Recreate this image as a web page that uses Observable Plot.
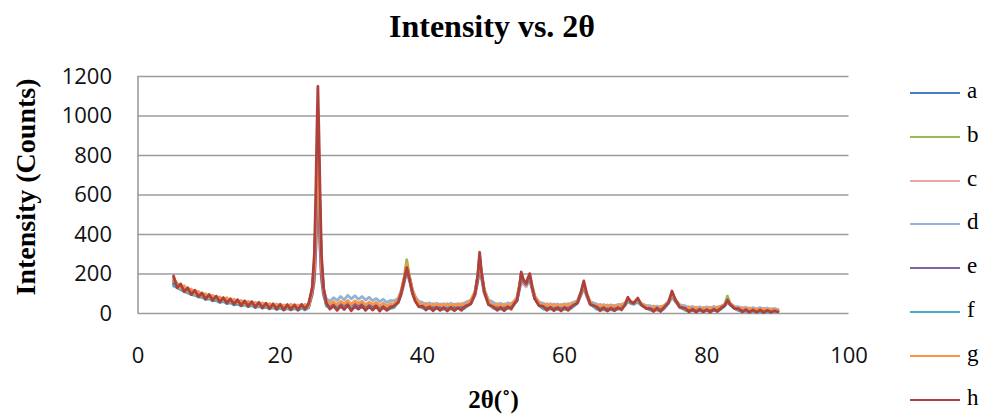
<!DOCTYPE html>
<html>
<head>
<meta charset="utf-8">
<script src="https://cdn.jsdelivr.net/npm/d3@7"></script>
<script src="https://cdn.jsdelivr.net/npm/@observablehq/plot@0.6"></script>
<style>
  html, body { margin: 0; padding: 0; background: #fff; }
  #wrap { position: relative; width: 984px; height: 417px; overflow: hidden; }
  #chart { position: absolute; left: 0; top: 0; }
  #title { position: absolute; left: 0; width: 984px; top: 8px; text-align: center;
           font-family: "Liberation Serif", "Times New Roman", serif; font-weight: bold; font-size: 32px; color: #000; }
  .leg { position: absolute; left: 910px; height: 24px; }
  .leg .sw { position: absolute; left: 0; top: 11px; width: 50px; height: 0; border-top: 2px solid; }
  .leg .lb { position: absolute; left: 57px; top: -2px; font-family: "Liberation Serif", "Times New Roman", serif; font-size: 23px; color: #000; line-height: 24px; }
</style>
</head>
<body>
<div id="wrap">
  <div id="chart"></div>
  <div id="title">Intensity vs. 2θ</div>
  <div id="legend"></div>
</div>
<script>
// 2θ positions (degrees)
const twoTheta = [
  5,5.5,6,6.5,7,7.5,8,8.5,9,9.5,10,10.5,11,11.5,12,12.5,13,13.5,14,14.5,15,15.5,16,16.5,17,17.5,18,18.5,19,19.5,20,20.5,21,21.5,22,22.5,23,23.5,24,
  24.5,24.8,25.0,25.15,25.3,25.45,25.6,25.8,26.1,
  26.5,27,27.5,28,28.5,29,29.5,30,30.5,31,31.5,32,32.5,33,33.5,34,34.5,35,35.5,36,
  36.6,37.0,37.4,37.8,38.2,38.6,39.0,39.5,
  40,40.5,41,41.5,42,42.5,43,43.5,44,44.5,45,45.5,46,
  46.8,47.4,47.8,48.05,48.3,48.7,49.3,
  50,50.5,51,51.5,52,52.5,52.9,
  53.3,53.7,53.9,54.2,54.6,54.9,55.1,55.4,55.8,56.4,
  57,57.5,58,58.5,59,59.5,60,60.5,61,
  61.8,62.3,62.7,63.1,63.6,
  64.5,65,65.5,66,66.5,67,67.5,68,
  68.5,68.9,69.3,69.7,70.3,70.8,71.5,
  72,72.5,73,73.5,74,
  74.6,75.1,75.6,76.2,
  77,77.5,78,78.5,79,79.5,80,80.5,81,81.5,82,
  82.5,82.9,83.3,83.9,
  84.5,85,85.5,86,86.5,87,87.5,88,88.5,89,89.5,90
];

// Intensity (counts) per sample
const seriesA = [
  164,144,132,130,110,118,96,106,86,94,76,88,68,80,62,72,56,66,50,60,44,56,40,52,36,48,32,44,30,42,28,40,26,40,26,40,28,42,32,
  120,240,440,690,870,720,490,250,120,
  46,40,50,38,48,40,52,42,50,40,48,36,46,38,44,34,40,32,38,40,
  62,104,166,240,180,112,72,48,
  30,38,28,36,26,34,28,36,26,34,28,36,34,
  56,104,190,280,205,118,56,
  30,38,28,36,30,40,52,
  72,145,195,168,150,178,188,138,80,46,
  28,36,26,34,26,32,26,36,32,
  56,104,145,98,52,
  26,34,24,32,24,30,26,34,
  46,68,56,52,64,46,31,
  20,30,18,28,28,
  56,92,66,36,
  18,26,16,24,16,24,16,24,18,26,28,
  41,62,46,29,
  16,24,14,22,12,20,12,20,12,18,10,16
];
const seriesB = [
  160,136,142,116,126,100,112,88,100,78,92,70,84,62,78,56,72,50,66,44,60,40,56,36,52,32,48,28,46,26,44,24,42,22,42,24,42,26,46,
  110,210,400,600,760,630,430,220,110,
  40,50,34,48,38,52,36,50,40,48,34,46,36,44,30,42,30,40,28,44,
  64,108,175,272,185,115,74,46,
  40,28,38,26,36,24,36,26,34,24,36,28,40,
  58,106,182,255,198,114,54,
  40,28,38,26,40,34,50,
  74,150,200,170,155,180,190,142,84,48,
  38,26,36,24,34,24,36,26,40,
  58,106,150,100,54,
  36,24,34,22,32,22,34,34,
  50,76,60,54,70,48,32,
  30,20,30,18,32,
  58,98,68,37,
  28,16,26,14,24,14,26,14,26,18,30,
  44,88,50,30,
  26,14,24,12,22,10,22,10,20,10,18,12
];
const seriesC = [
  150,140,130,120,116,104,102,92,90,80,84,72,76,64,70,58,64,52,58,46,54,42,50,38,46,34,42,30,40,28,38,26,36,26,36,26,36,28,40,
  92,160,300,445,560,470,320,170,90,
  44,38,42,36,44,40,46,38,44,36,42,36,40,34,38,32,36,30,34,38,
  56,92,145,205,160,100,64,42,
  32,28,30,26,30,26,30,24,30,26,30,28,34,
  50,90,160,235,178,100,48,
  32,28,30,26,32,32,46,
  64,125,170,148,135,158,165,125,72,42,
  30,26,28,24,28,24,28,26,32,
  50,90,126,86,46,
  28,24,26,22,26,22,26,28,
  42,60,50,46,56,42,28,
  22,18,22,18,28,
  50,80,58,32,
  20,16,18,14,18,14,18,14,20,16,26,
  38,54,42,26,
  18,14,16,12,16,12,14,10,14,10,12,11
];
const seriesD = [
  178,150,146,124,130,108,116,96,104,86,96,78,88,70,80,64,74,58,68,52,64,48,60,44,56,40,52,36,50,34,48,32,46,32,46,32,46,34,50,
  108,200,370,560,700,590,400,210,112,
  76,62,80,66,86,70,92,74,90,72,86,68,82,64,76,60,72,56,66,64,
  78,112,160,215,170,118,86,62,
  56,44,54,42,52,42,50,40,52,42,50,44,56,
  68,108,175,240,190,118,70,
  56,44,52,42,54,48,64,
  82,140,180,160,148,168,175,138,88,58,
  52,40,50,38,48,38,50,40,54,
  64,100,135,96,60,
  48,38,46,36,44,36,46,44,
  52,66,58,54,62,50,40,
  40,32,38,30,42,
  60,88,68,44,
  38,28,36,26,34,26,34,26,36,28,38,
  46,60,50,36,
  34,26,32,24,30,22,30,22,28,20,26,20
];
const seriesE = [
  150,146,128,132,108,116,96,104,84,94,76,86,68,78,60,72,56,66,48,60,44,56,40,52,36,48,32,44,28,42,26,40,24,40,24,40,26,42,30,
  100,180,330,500,620,520,350,185,98,
  48,36,46,34,48,38,46,36,46,34,44,36,42,32,40,30,38,30,36,40,
  60,100,158,225,172,108,68,44,
  34,28,32,26,34,26,30,24,32,26,32,28,36,
  54,98,172,250,190,108,52,
  34,28,32,26,34,34,48,
  68,136,185,160,145,170,178,135,78,44,
  32,26,30,24,30,24,30,26,34,
  54,98,140,94,50,
  30,24,28,22,28,22,28,30,
  45,66,55,50,62,45,30,
  24,20,24,20,30,
  54,90,64,34,
  22,16,20,14,20,14,20,16,22,18,28,
  40,60,45,28,
  20,14,18,12,18,12,16,10,16,10,14,12
];
const seriesF = [
  140,132,120,112,104,96,92,84,82,72,74,64,66,56,60,50,54,44,48,38,44,34,40,30,36,28,32,24,30,20,28,18,26,18,26,16,28,18,30,
  125,260,490,750,960,790,520,270,125,
  38,28,34,26,36,28,38,30,34,26,32,24,32,24,30,22,28,20,26,30,
  58,102,165,245,178,108,66,38,
  28,22,26,20,26,20,24,18,24,20,26,20,28,
  50,102,188,285,206,112,48,
  26,22,24,20,26,28,44,
  66,142,195,165,148,176,186,136,76,40,
  24,20,24,18,22,18,22,20,28,
  52,102,148,96,48,
  22,18,20,16,20,16,22,26,
  42,64,52,48,60,42,27,
  18,14,18,14,24,
  52,92,62,32,
  16,12,14,10,14,10,14,10,16,12,22,
  38,62,44,26,
  14,10,12,8,12,8,10,6,10,6,8,8
];
const seriesG = [
  175,152,128,140,112,124,98,112,90,100,80,92,74,84,66,80,60,72,54,66,48,62,46,56,42,54,38,50,34,48,32,44,30,46,30,44,32,46,36,
  118,235,430,670,850,710,470,245,118,
  64,48,60,44,62,50,66,46,64,52,62,44,58,46,56,40,52,38,50,48,
  70,114,175,250,185,120,80,54,
  40,52,36,50,38,48,34,50,36,48,38,50,44,
  64,112,192,275,208,122,62,
  36,50,34,48,38,50,60,
  80,150,198,172,158,182,192,146,88,54,
  38,50,34,48,36,46,34,50,42,
  62,108,150,104,58,
  34,46,32,44,30,42,34,46,
  52,72,60,56,68,50,36,
  24,38,22,36,36,
  60,98,70,40,
  22,34,20,32,18,30,20,32,20,34,34,
  46,66,50,33,
  22,30,18,28,16,26,16,26,14,24,12,20
];
const seriesH = [
  190,130,150,110,130,96,118,84,104,72,96,66,88,58,80,52,74,46,70,40,64,36,60,32,56,28,52,24,48,22,46,18,44,20,42,18,46,22,50,
  130,300,590,900,1150,910,620,300,130,
  52,22,40,16,38,20,42,14,36,22,40,16,34,18,38,12,32,16,30,38,
  56,100,165,232,172,104,62,34,
  38,18,34,14,32,16,30,12,32,14,30,16,36,
  48,100,198,310,212,112,44,
  34,16,32,14,34,22,50,
  66,148,210,170,152,185,202,140,76,40,
  36,16,32,14,30,12,32,16,36,
  54,108,165,100,46,
  34,14,30,12,28,14,30,18,
  44,82,58,52,78,44,25,
  26,10,28,10,32,
  54,114,68,32,
  26,8,22,6,22,8,20,6,22,10,28,
  40,68,46,25,
  24,8,20,6,18,6,18,5,16,6,14,8
];

const seriesNames = ["a","b","c","d","e","f","g","h"];
const seriesValues = [seriesA, seriesB, seriesC, seriesD, seriesE, seriesF, seriesG, seriesH];
const seriesColors = ["#4A7EBB","#98B954","#E8A7A6","#95B3D7","#7E63A3","#4BACC6","#F79646","#AF413D"];

const xTicks = [0,20,40,60,80,100];
const yTicks = [0,200,400,600,800,1000,1200];

const rows = [];
seriesNames.forEach((name, si) => {
  const vals = seriesValues[si];
  twoTheta.forEach((t, i) => { if (vals[i] !== undefined) rows.push({series: name, theta: t, counts: vals[i]}); });
});

const serifFont = '"Liberation Serif", "Times New Roman", serif';
const tickFont = '"Open Sans", "Liberation Sans", sans-serif';

const chart = Plot.plot({
  width: 984,
  height: 417,
  marginLeft: 137.5,
  marginRight: 135.5,
  marginTop: 76,
  marginBottom: 104,
  style: {background: "transparent", overflow: "visible"},
  x: {domain: [0, 100], ticks: xTicks},
  y: {domain: [0, 1200], ticks: yTicks},
  color: {domain: seriesNames, range: seriesColors},
  marks: [
    Plot.gridY(yTicks, {stroke: "#9c9c9c", strokeOpacity: 1, strokeWidth: 1.6}),
    Plot.ruleX([0], {stroke: "#9c9c9c", strokeWidth: 1.6}),
    Plot.lineY(rows, {x: "theta", y: "counts", z: "series", stroke: "series", strokeWidth: 2.8, strokeLinejoin: "round"}),
    Plot.axisX(xTicks, {tickSize: 0, tickPadding: 34, fontSize: 22, fontFamily: tickFont, fill: "#111", label: null, tickFormat: d => String(d)}),
    Plot.axisY(yTicks, {tickSize: 0, tickPadding: 26, fontSize: 22, fontFamily: tickFont, fill: "#111", label: null, tickFormat: d => String(d)}),
    Plot.text(["Intensity (Counts)"], {frameAnchor: "left", textAnchor: "middle", lineAnchor: "middle", rotate: -90, dx: -112, dy: -8, fontSize: 28, fontWeight: "bold", fontFamily: serifFont, fill: "#000"}),
    Plot.text(["2θ(˚)"], {frameAnchor: "bottom", dy: 94, fontSize: 25, fontWeight: "bold", fontFamily: serifFont, fill: "#000"})
  ]
});
document.getElementById("chart").appendChild(chart);

const legend = document.getElementById("legend");
seriesNames.forEach((name, i) => {
  const d = document.createElement("div");
  d.className = "leg";
  d.style.top = (81 + i * 43.8) + "px";
  const sw = document.createElement("div");
  sw.className = "sw";
  sw.style.borderTopColor = seriesColors[i];
  const lb = document.createElement("div");
  lb.className = "lb";
  lb.textContent = name;
  d.appendChild(sw); d.appendChild(lb);
  legend.appendChild(d);
});
</script>
</body>
</html>
